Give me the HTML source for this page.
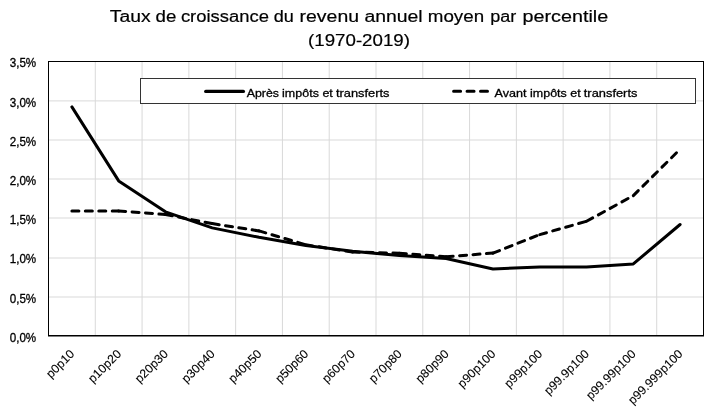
<!DOCTYPE html>
<html lang="fr">
<head>
<meta charset="utf-8">
<title>Taux de croissance du revenu annuel moyen par percentile (1970-2019)</title>
<style>
html,body{margin:0;padding:0;background:#fff;}
body{width:714px;height:415px;overflow:hidden;}
svg{display:block;will-change:transform;}
text{font-family:"Liberation Sans",sans-serif;fill:#000;stroke:#000;stroke-width:0.3px;}
.t{font-size:17.3px;stroke-width:0.2px;}
.l{font-size:12.1px;}
.g{font-size:11.8px;}
.x{stroke-width:0.1px;}
</style>
</head>
<body>
<svg width="714" height="415" viewBox="0 0 714 415">
<rect x="0" y="0" width="714" height="415" fill="#ffffff"/>
<text class="t" y="22.2"><tspan x="109.80" textLength="40.80" lengthAdjust="spacingAndGlyphs">Taux</tspan> <tspan x="155.50" textLength="20.80" lengthAdjust="spacingAndGlyphs">de</tspan> <tspan x="180.90" textLength="88.00" lengthAdjust="spacingAndGlyphs">croissance</tspan> <tspan x="273.80" textLength="20.10" lengthAdjust="spacingAndGlyphs">du</tspan> <tspan x="299.60" textLength="59.40" lengthAdjust="spacingAndGlyphs">revenu</tspan> <tspan x="364.40" textLength="58.30" lengthAdjust="spacingAndGlyphs">annuel</tspan> <tspan x="427.80" textLength="56.30" lengthAdjust="spacingAndGlyphs">moyen</tspan> <tspan x="490.30" textLength="26.00" lengthAdjust="spacingAndGlyphs">par</tspan> <tspan x="522.50" textLength="85.70" lengthAdjust="spacingAndGlyphs">percentile</tspan></text>
<text class="t" x="308" y="46.3" textLength="102" lengthAdjust="spacingAndGlyphs">(1970-2019)</text>
<g stroke="#d9d9d9" stroke-width="1" fill="none">
<line x1="95.29" y1="61.5" x2="95.29" y2="335.5"/>
<line x1="142.07" y1="61.5" x2="142.07" y2="335.5"/>
<line x1="188.86" y1="61.5" x2="188.86" y2="335.5"/>
<line x1="235.64" y1="61.5" x2="235.64" y2="335.5"/>
<line x1="282.43" y1="61.5" x2="282.43" y2="335.5"/>
<line x1="329.21" y1="61.5" x2="329.21" y2="335.5"/>
<line x1="376.00" y1="61.5" x2="376.00" y2="335.5"/>
<line x1="422.79" y1="61.5" x2="422.79" y2="335.5"/>
<line x1="469.57" y1="61.5" x2="469.57" y2="335.5"/>
<line x1="516.36" y1="61.5" x2="516.36" y2="335.5"/>
<line x1="563.14" y1="61.5" x2="563.14" y2="335.5"/>
<line x1="609.93" y1="61.5" x2="609.93" y2="335.5"/>
<line x1="656.71" y1="61.5" x2="656.71" y2="335.5"/>
<line x1="48.5" y1="100.9" x2="703.5" y2="100.9"/>
<line x1="48.5" y1="140.0" x2="703.5" y2="140.0"/>
<line x1="48.5" y1="179.0" x2="703.5" y2="179.0"/>
<line x1="48.5" y1="218.0" x2="703.5" y2="218.0"/>
<line x1="48.5" y1="258.0" x2="703.5" y2="258.0"/>
<line x1="48.5" y1="297.0" x2="703.5" y2="297.0"/>
</g>
<rect x="140.5" y="78.5" width="555" height="25" fill="#ffffff" stroke="#333333" stroke-width="1"/>
<g fill="none" stroke="#000" stroke-width="3.0" stroke-linecap="round" stroke-dasharray="7 6.45">
<line x1="71.89" y1="210.9" x2="118.68" y2="210.9"/>
<line x1="118.68" y1="210.9" x2="165.46" y2="214.5"/>
<line x1="165.46" y1="214.5" x2="212.25" y2="223.6"/>
<line x1="212.25" y1="223.6" x2="259.04" y2="230.9"/>
<line x1="259.04" y1="230.9" x2="305.82" y2="244.8"/>
<line x1="305.82" y1="244.8" x2="352.61" y2="252.0"/>
<line x1="352.61" y1="252.0" x2="399.39" y2="253.3"/>
<line x1="399.39" y1="253.3" x2="446.18" y2="256.7"/>
<line x1="446.18" y1="256.7" x2="492.96" y2="253.1"/>
<line x1="492.96" y1="253.1" x2="539.75" y2="234.6"/>
<line x1="539.75" y1="234.6" x2="586.54" y2="221.3"/>
<line x1="586.54" y1="221.3" x2="633.32" y2="195.6"/>
<line x1="633.32" y1="195.6" x2="680.11" y2="149.2"/>
</g>
<polyline points="71.89,106.9 118.68,180.9 165.46,211.8 212.25,227.9 259.04,237.3 305.82,245.5 352.61,251.3 399.39,255.6 446.18,258.5 492.96,269.0 539.75,267.0 586.54,267.0 633.32,263.9 680.11,224.5" fill="none" stroke="#000" stroke-width="3.0" stroke-linecap="round" stroke-linejoin="round"/>
<rect x="48.5" y="61.5" width="655.0" height="274.0" fill="none" stroke="#000" stroke-width="1"/>
<line x1="48.0" y1="335.7" x2="704.0" y2="335.7" stroke="#000" stroke-width="1.6"/>
<line x1="205.75" y1="91.4" x2="243.4" y2="91.4" stroke="#000" stroke-width="3.3" stroke-linecap="round"/>
<text class="l g" y="96.7"><tspan x="246.70" textLength="32.30" lengthAdjust="spacingAndGlyphs">Après</tspan> <tspan x="282.10" textLength="36.80" lengthAdjust="spacingAndGlyphs">impôts</tspan> <tspan x="322.40" textLength="10.40" lengthAdjust="spacingAndGlyphs">et</tspan> <tspan x="335.90" textLength="53.60" lengthAdjust="spacingAndGlyphs">transferts</tspan></text>
<line x1="453.6" y1="91.3" x2="488" y2="91.3" stroke="#000" stroke-width="3.0" stroke-linecap="round" stroke-dasharray="7 6.45"/>
<text class="l g" y="96.7"><tspan x="494.60" textLength="31.90" lengthAdjust="spacingAndGlyphs">Avant</tspan> <tspan x="530.00" textLength="36.80" lengthAdjust="spacingAndGlyphs">impôts</tspan> <tspan x="570.30" textLength="10.40" lengthAdjust="spacingAndGlyphs">et</tspan> <tspan x="583.80" textLength="53.60" lengthAdjust="spacingAndGlyphs">transferts</tspan></text>
<text class="l" x="9.7" y="341.60" textLength="26.5" lengthAdjust="spacingAndGlyphs">0,0%</text>
<text class="l" x="9.7" y="302.60" textLength="26.5" lengthAdjust="spacingAndGlyphs">0,5%</text>
<text class="l" x="9.7" y="262.60" textLength="26.5" lengthAdjust="spacingAndGlyphs">1,0%</text>
<text class="l" x="9.7" y="223.60" textLength="26.5" lengthAdjust="spacingAndGlyphs">1,5%</text>
<text class="l" x="9.7" y="184.60" textLength="26.5" lengthAdjust="spacingAndGlyphs">2,0%</text>
<text class="l" x="9.7" y="145.60" textLength="26.5" lengthAdjust="spacingAndGlyphs">2,5%</text>
<text class="l" x="9.7" y="106.60" textLength="26.5" lengthAdjust="spacingAndGlyphs">3,0%</text>
<text class="l" x="9.7" y="66.60" textLength="26.5" lengthAdjust="spacingAndGlyphs">3,5%</text>
<text class="l x" text-anchor="end" transform="translate(75.19,354.6) rotate(-45)" textLength="34.3" lengthAdjust="spacingAndGlyphs">p0p10</text>
<text class="l x" text-anchor="end" transform="translate(121.98,354.6) rotate(-45)" textLength="41.0" lengthAdjust="spacingAndGlyphs">p10p20</text>
<text class="l x" text-anchor="end" transform="translate(168.76,354.6) rotate(-45)" textLength="41.0" lengthAdjust="spacingAndGlyphs">p20p30</text>
<text class="l x" text-anchor="end" transform="translate(215.55,354.6) rotate(-45)" textLength="41.0" lengthAdjust="spacingAndGlyphs">p30p40</text>
<text class="l x" text-anchor="end" transform="translate(262.34,354.6) rotate(-45)" textLength="41.0" lengthAdjust="spacingAndGlyphs">p40p50</text>
<text class="l x" text-anchor="end" transform="translate(309.12,354.6) rotate(-45)" textLength="41.0" lengthAdjust="spacingAndGlyphs">p50p60</text>
<text class="l x" text-anchor="end" transform="translate(355.91,354.6) rotate(-45)" textLength="41.0" lengthAdjust="spacingAndGlyphs">p60p70</text>
<text class="l x" text-anchor="end" transform="translate(402.69,354.6) rotate(-45)" textLength="41.0" lengthAdjust="spacingAndGlyphs">p70p80</text>
<text class="l x" text-anchor="end" transform="translate(449.48,354.6) rotate(-45)" textLength="41.0" lengthAdjust="spacingAndGlyphs">p80p90</text>
<text class="l x" text-anchor="end" transform="translate(496.26,354.6) rotate(-45)" textLength="47.8" lengthAdjust="spacingAndGlyphs">p90p100</text>
<text class="l x" text-anchor="end" transform="translate(543.05,354.6) rotate(-45)" textLength="47.8" lengthAdjust="spacingAndGlyphs">p99p100</text>
<text class="l x" text-anchor="end" transform="translate(589.84,354.6) rotate(-45)" textLength="57.9" lengthAdjust="spacingAndGlyphs">p99.9p100</text>
<text class="l x" text-anchor="end" transform="translate(636.62,354.6) rotate(-45)" textLength="64.7" lengthAdjust="spacingAndGlyphs">p99.99p100</text>
<text class="l x" text-anchor="end" transform="translate(683.41,354.6) rotate(-45)" textLength="71.4" lengthAdjust="spacingAndGlyphs">p99.999p100</text>
</svg>
</body>
</html>
